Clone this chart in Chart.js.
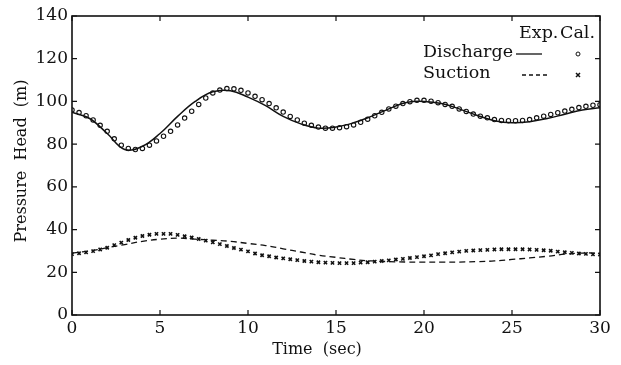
<!DOCTYPE html>
<html>
<head>
<meta charset="utf-8">
<script src="https://cdn.jsdelivr.net/npm/chart.js@4/dist/chart.umd.min.js"></script>
<style>
  html, body { margin: 0; padding: 0; background: #fff; }
  canvas { display: block; }
</style>
</head>
<body>
<canvas id="pressureChart" width="621" height="365"></canvas>
<script>
// sample times (sec)
const expTime = [0, 1, 2, 3, 4, 5, 6, 7, 8, 9, 10, 11, 12, 13, 14, 15, 16, 17, 18, 19, 20,
  21, 22, 23, 24, 25, 26, 27, 28, 29, 30];
const calTime = [0, 0.4, 0.8, 1.2, 1.6, 2, 2.4, 2.8, 3.2, 3.6, 4, 4.4, 4.8, 5.2, 5.6, 6, 6.4, 6.8,
  7.2, 7.6, 8, 8.4, 8.8, 9.2, 9.6, 10, 10.4, 10.8, 11.2, 11.6, 12, 12.4, 12.8, 13.2, 13.6, 14, 14.4,
  14.8, 15.2, 15.6, 16, 16.4, 16.8, 17.2, 17.6, 18, 18.4, 18.8, 19.2, 19.6, 20, 20.4, 20.8, 21.2,
  21.6, 22, 22.4, 22.8, 23.2, 23.6, 24, 24.4, 24.8, 25.2, 25.6, 26, 26.4, 26.8, 27.2, 27.6, 28,
  28.4, 28.8, 29.2, 29.6, 30];

// pressure head (m)
const dischargeExp = [95, 92, 85, 77.5, 79, 85, 93, 100, 104.5, 105, 102, 98, 93, 89.5, 87.5, 88,
  90, 93, 96.5, 99.5, 100, 99, 96.5, 93.5, 91, 90, 90.5, 92, 94, 96, 97];
const dischargeCal = [96, 94.8, 93.3, 91.3, 88.8, 86, 82.5, 79.5, 78, 77.5, 78, 79.5, 81.5, 83.7,
  86, 89, 92.2, 95.4, 98.6, 101.6, 104, 105.3, 106, 105.9, 105.2, 104, 102.4, 100.8, 99, 97, 95,
  93, 91.3, 89.8, 88.8, 88, 87.5, 87.5, 87.7, 88.2, 89, 90.2, 91.7, 93.3, 94.9, 96.5, 97.8, 99,
  99.9, 100.5, 100.5, 100.1, 99.4, 98.6, 97.7, 96.5, 95.3, 94.1, 93.1, 92.3, 91.5, 91.1, 91, 91,
  91.1, 91.5, 92.3, 93.1, 93.9, 94.7, 95.5, 96.3, 97.1, 97.7, 98.2, 98.5];
const suctionExp = [29, 30, 31.5, 33, 34.5, 35.5, 36, 35.5, 35, 34.5, 33.5, 32.5, 31, 29.5, 28, 27,
  26, 25.3, 25, 24.8, 24.8, 24.8, 24.8, 25, 25.3, 26, 26.7, 27.5, 28.5, 29, 29];
const suctionCal = [28.5, 28.9, 29.3, 29.9, 30.7, 31.5, 32.7, 33.9, 35.1, 36.2, 37, 37.6, 38, 38,
  38, 37.5, 36.9, 36.3, 35.6, 34.8, 34, 33.2, 32.3, 31.4, 30.6, 29.8, 28.8, 28, 27.5, 26.9, 26.5,
  26.1, 25.7, 25.3, 25, 24.7, 24.5, 24.4, 24.3, 24.3, 24.3, 24.5, 24.7, 25, 25.3, 25.6, 26, 26.3,
  26.7, 27.1, 27.5, 27.9, 28.5, 28.9, 29.3, 29.7, 30, 30.2, 30.4, 30.5, 30.7, 30.8, 30.8, 30.8,
  30.8, 30.7, 30.5, 30.3, 30.1, 29.7, 29.4, 29.1, 28.8, 28.6, 28.4, 28.3];

const xTicks = [0, 5, 10, 15, 20, 25, 30];
const yTicks = [0, 20, 40, 60, 80, 100, 120, 140];

const ink = "#111";
const serif = "'DejaVu Serif', 'Liberation Serif', serif";

const toPoints = (xs, ys) => xs.map((x, i) => ({ x, y: ys[i] }));

// inward ticks, frame, legend and axis titles
const decorations = {
  id: "decorations",
  afterDraw(chart) {
    const { ctx, chartArea: a, scales } = chart;
    ctx.save();
    ctx.strokeStyle = ink;
    ctx.lineWidth = 1.6;
    ctx.strokeRect(a.left, a.top, a.right - a.left, a.bottom - a.top);

    ctx.lineWidth = 1.2;
    ctx.beginPath();
    for (const v of xTicks) {
      const px = scales.x.getPixelForValue(v);
      ctx.moveTo(px, a.bottom); ctx.lineTo(px, a.bottom - 5);
      ctx.moveTo(px, a.top); ctx.lineTo(px, a.top + 5);
    }
    for (const v of yTicks) {
      const py = scales.y.getPixelForValue(v);
      ctx.moveTo(a.left, py); ctx.lineTo(a.left + 5, py);
      ctx.moveTo(a.right, py); ctx.lineTo(a.right - 5, py);
    }
    ctx.stroke();

    // axis titles
    ctx.fillStyle = ink;
    ctx.font = "16px " + serif;
    ctx.textAlign = "center";
    ctx.textBaseline = "middle";
    ctx.fillText("Time  (sec)", 317, 350);
    ctx.save();
    ctx.translate(22, 161);
    ctx.rotate(-Math.PI / 2);
    ctx.fillText("Pressure  Head  (m)", 0, 0);
    ctx.restore();

    // legend
    ctx.font = "17.5px " + serif;
    ctx.textAlign = "left";
    ctx.fillText("Exp.", 519, 33);
    ctx.fillText("Cal.", 560, 33);
    ctx.fillText("Discharge", 423, 52);
    ctx.fillText("Suction", 423, 73);

    ctx.lineWidth = 1.3;
    ctx.beginPath();
    ctx.moveTo(516, 54); ctx.lineTo(542, 54);
    ctx.stroke();
    ctx.setLineDash([4, 3]);
    ctx.beginPath();
    ctx.moveTo(522, 75); ctx.lineTo(549, 75);
    ctx.stroke();
    ctx.setLineDash([]);

    ctx.lineWidth = 1;
    ctx.beginPath();
    ctx.arc(578, 54, 2, 0, Math.PI * 2);
    ctx.stroke();
    ctx.lineWidth = 1.5;
    ctx.beginPath();
    ctx.moveTo(576, 73); ctx.lineTo(580, 77);
    ctx.moveTo(580, 73); ctx.lineTo(576, 77);
    ctx.stroke();
    ctx.restore();
  }
};

new Chart(document.getElementById("pressureChart"), {
  type: "line",
  data: {
    datasets: [
      {
        label: "Discharge Exp.",
        data: toPoints(expTime, dischargeExp),
        borderColor: ink,
        borderWidth: 1.5,
        pointRadius: 0,
        tension: 0.4,
        fill: false,
      },
      {
        label: "Discharge Cal.",
        data: toPoints(calTime, dischargeCal),
        showLine: false,
        pointStyle: "circle",
        pointRadius: 2.2,
        pointBorderWidth: 1.1,
        pointBorderColor: ink,
        pointBackgroundColor: "#fff",
      },
      {
        label: "Suction Exp.",
        data: toPoints(expTime, suctionExp),
        borderColor: ink,
        borderWidth: 1.3,
        borderDash: [6, 4],
        pointRadius: 0,
        tension: 0.4,
        fill: false,
      },
      {
        label: "Suction Cal.",
        data: toPoints(calTime, suctionCal),
        showLine: false,
        pointStyle: "crossRot",
        pointRadius: 2.3,
        pointBorderWidth: 1.6,
        pointBorderColor: ink,
      },
    ],
  },
  options: {
    responsive: false,
    animation: false,
    layout: { padding: { top: 16, right: 21, left: 0, bottom: 0 } },
    plugins: { legend: { display: false }, tooltip: { enabled: false } },
    scales: {
      x: {
        type: "linear",
        min: 0,
        max: 30,
        afterFit: (scale) => { scale.height = 50; },
        afterBuildTicks: (scale) => { scale.ticks = xTicks.map((v) => ({ value: v })); },
        grid: { display: false, drawTicks: false },
        border: { display: false },
        ticks: { color: ink, padding: 3, maxRotation: 0, font: { family: serif, size: 17 } },
      },
      y: {
        min: 0,
        max: 140,
        afterFit: (scale) => { scale.width = 72; },
        afterBuildTicks: (scale) => { scale.ticks = yTicks.map((v) => ({ value: v })); },
        grid: { display: false, drawTicks: false },
        border: { display: false },
        ticks: { color: ink, padding: 4, font: { family: serif, size: 17 } },
      },
    },
  },
  plugins: [decorations],
});
</script>
</body>
</html>
